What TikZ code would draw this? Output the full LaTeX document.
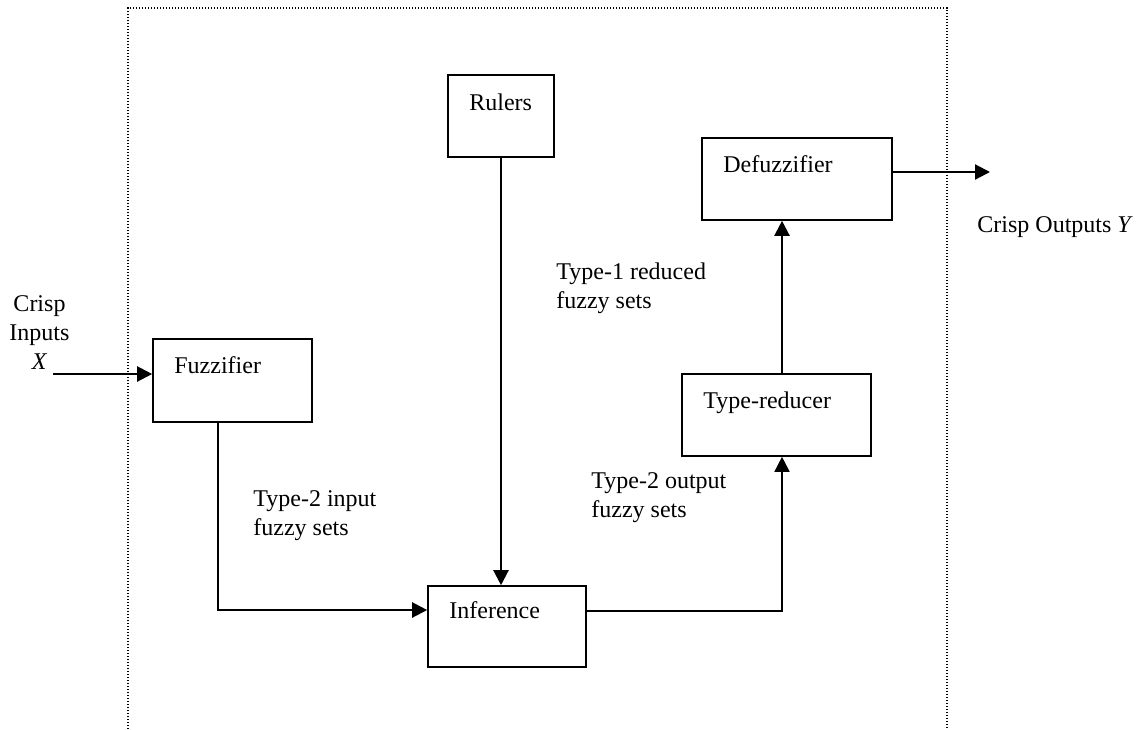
\documentclass[tikz,border=0pt]{standalone}
\usepackage{fontspec}
\setmainfont{Liberation Serif}
\usetikzlibrary{arrows.meta}
\begin{document}
\begin{tikzpicture}[x=0.5pt,y=-0.5pt,
  box/.style={draw, line width=0.8pt, rectangle, minimum width=#1, inner sep=0pt},
  lbl/.style={anchor=base west, inner sep=0pt, font=\fontsize{12pt}{14.5pt}\selectfont, align=left},
  conn/.style={line width=1.1pt, -{Triangle[length=7.5pt,width=7.5pt]}},
  frame/.style={line width=0.7pt, dash pattern=on 0.7pt off 0.8pt}]
\useasboundingbox (0,0) rectangle (1144,729);
% dotted frame
\draw[frame] (128,729) -- (128,8) -- (947,8) -- (947,729);
% boxes
\node[box=79.5pt, minimum height=41.5pt] (fuzz) at (232.5,380.5) {};
\node[box=53pt, minimum height=41pt] (rulers) at (501,116) {};
\node[box=79pt, minimum height=40.5pt] (inf) at (507,626.5) {};
\node[box=94.5pt, minimum height=41pt] (tred) at (776.5,415) {};
\node[box=95pt, minimum height=41pt] (defuzz) at (797,179) {};
% box texts
\node[lbl] (tfuzz) at (174,373) {Fuzzifier};
\node[lbl] (trul) at (469,110) {Rulers};
\node[lbl] (tinf) at (449,618) {Inference};
\node[lbl] (ttred) at (703,408) {Type-reducer};
\node[lbl] (tdef) at (723,172) {Defuzzifier};
% other labels (base = baseline of last line)
\node[lbl] (l1) at (253,535) {Type-2 input\\fuzzy sets};
\node[lbl] (l2) at (591,517) {Type-2 output\\fuzzy sets};
\node[lbl] (l3) at (556,308) {Type-1 reduced\\fuzzy sets};
\node[lbl] (lout) at (977,232) {Crisp Outputs \textit{Y}};
\node[lbl, anchor=base, align=center] (lin) at (39.5,369) {Crisp\\Inputs\\\textit{X}};
% coordinates
\coordinate (xin) at (53,374);
\coordinate (c1) at (218,610);
\coordinate (c2) at (782,611);
\coordinate (yout) at (990,172);
% connectors
\draw[conn] (xin) -- (xin -| fuzz.west);
\draw[conn] (fuzz.south -| c1) |- (inf.west |- c1);
\draw[conn] (rulers.south) -- (rulers.south |- inf.north);
\draw[conn, line width=0.8pt] (inf.east |- c2) -| (tred.south -| c2);
\draw[conn] (tred.north -| c2) -- (defuzz.south -| c2);
\draw[conn] (defuzz.east |- yout) -- (yout);
\end{tikzpicture}
\end{document}
